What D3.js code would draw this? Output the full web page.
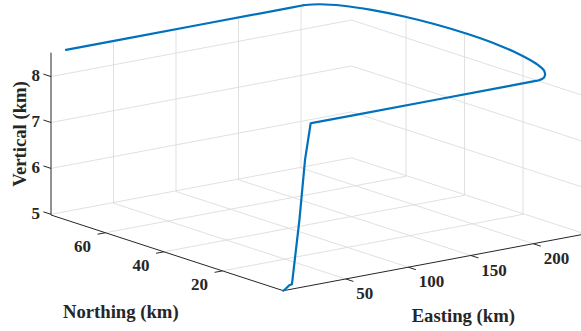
<!DOCTYPE html>
<html>
<head>
<meta charset="utf-8">
<script src="https://cdn.jsdelivr.net/npm/d3@7"></script>
<style>
  html, body { margin: 0; padding: 0; background: #fff; }
  svg { display: block; }
  text { font-family: "Liberation Serif", "Times New Roman", serif; font-weight: bold; fill: #262626; }
</style>
</head>
<body>
<svg id="chart" width="581" height="331"></svg>
<script>
// Axis limits (km)
const eastLim = [0, 240.5];
const northLim = [-0.8, 78.6];
const vertLim = [4.985, 8.52];

// Tick values
const eastTicks = [50, 100, 150, 200];
const northTicks = [20, 40, 60];
const vertTicks = [5, 6, 7, 8];

// Flight track: easting, northing, altitude (km)
const eastKm = [0, 1.5, 4.8, 6.9, 12.9, 17.4, 21.9, 23.5, 60, 120, 180, 202,
  212.0, 221.3, 229.2, 235.3, 239.2, 240.5, 239.2, 235.3, 229.2, 221.3, 212.0,
  202.0, 190, 120, 60, 12];
const northKm = [-0.8, -0.7, -0.8, -0.8, -0.8, -0.8, -0.8, -0.8, -0.8, -0.8, -0.8, -0.8,
  0.6, 4.5, 10.8, 19.1, 28.6, 38.9, 49.2, 58.8, 67.0, 73.3, 77.2,
  78.6, 78.6, 78.6, 78.6, 78.6];
const vertKm = [4.985, 5.0, 5.08, 5.09, 6.46, 7.75, 8.52, 8.52, 8.52, 8.52, 8.52, 8.52,
  8.52, 8.52, 8.52, 8.52, 8.52, 8.52, 8.52, 8.52, 8.52, 8.52, 8.52,
  8.52, 8.52, 8.52, 8.52, 8.52];
// Index range of the turn from the eastbound to the westbound leg
const turnStart = 11, turnEnd = 23;

const svg = d3.select("#chart");

// Orthographic 3-D view: each axis maps to a fraction of its screen edge vector
const fe = d3.scaleLinear().domain(eastLim).range([0, 1]);
const fn = d3.scaleLinear().domain(northLim).range([0, 1]);
const fz = d3.scaleLinear().domain(vertLim).range([0, 1]);
const origin = [283.3, 290.7];
const eVec = [300.6, -56.5];
const nVec = [-232.3, -75.7];
const zVec = [0, -162.3];

function proj(e, n, z) {
  const a = fe(e), b = fn(n), c = fz(z);
  return [origin[0] + a * eVec[0] + b * nVec[0] + c * zVec[0],
          origin[1] + a * eVec[1] + b * nVec[1] + c * zVec[1]];
}
function unit(v, s) { const L = Math.hypot(v[0], v[1]); return [v[0] / L * s, v[1] / L * s]; }

const [e0, e1] = eastLim, [n0, n1] = northLim, [z0, z1] = vertLim;

// Grid lines on floor, back wall and side wall
const grid = [];
eastTicks.forEach(e => {
  grid.push([proj(e, n0, z0), proj(e, n1, z0)]);
  grid.push([proj(e, n1, z0), proj(e, n1, z1)]);
});
northTicks.forEach(n => {
  grid.push([proj(e0, n, z0), proj(e1, n, z0)]);
  grid.push([proj(e1, n, z0), proj(e1, n, z1)]);
});
vertTicks.forEach(z => {
  grid.push([proj(e0, n1, z), proj(e1, n1, z)]);
  grid.push([proj(e1, n1, z), proj(e1, n0, z)]);
});
svg.append("g").selectAll("line").data(grid).join("line")
  .attr("x1", d => d[0][0]).attr("y1", d => d[0][1])
  .attr("x2", d => d[1][0]).attr("y2", d => d[1][1])
  .attr("stroke", "#dcdcdc").attr("stroke-width", 0.9);

// Axis lines
const axes = [
  [proj(e0, n0, z0), proj(e1, n0, z0)],
  [proj(e0, n0, z0), proj(e0, n1, z0)],
  [proj(e0, n1, z0), proj(e0, n1, z1)]
];
const axG = svg.append("g");
axG.selectAll("line.ax").data(axes).join("line").attr("class", "ax")
  .attr("x1", d => d[0][0]).attr("y1", d => d[0][1])
  .attr("x2", d => d[1][0]).attr("y2", d => d[1][1])
  .attr("stroke", "#262626").attr("stroke-width", 1);

const tickLen = 8;
const fs = 17;
const eDir = unit([-nVec[0], -nVec[1]], tickLen);
const nDir = unit([-eVec[0], -eVec[1]], tickLen);
const zDir = unit(nVec, tickLen);

function drawTicks(vals, pt, dir, labelPos, anchor) {
  vals.forEach(v => {
    const p = pt(v);
    axG.append("line")
      .attr("x1", p[0]).attr("y1", p[1])
      .attr("x2", p[0] + dir[0]).attr("y2", p[1] + dir[1])
      .attr("stroke", "#262626").attr("stroke-width", 1);
    const l = labelPos(p);
    axG.append("text").attr("x", l[0]).attr("y", l[1] + fs * 0.34)
      .attr("text-anchor", anchor).attr("font-size", fs).text(v);
  });
}
drawTicks(eastTicks, v => proj(v, n0, z0), eDir, p => [p[0] + 10.5, p[1] + 14.3], "start");
drawTicks(northTicks, v => proj(e0, v, z0), nDir, p => [p[0] - 14.5, p[1] + 13], "end");
drawTicks(vertTicks, v => proj(e0, n1, v), zDir, p => [p[0] - 11, p[1] - 1], "end");

// Axis titles
const ls = 18.7;
svg.append("text").attr("x", 120.8).attr("y", 318).attr("text-anchor", "middle")
  .attr("font-size", ls).text("Northing (km)");
svg.append("text").attr("x", 463.3).attr("y", 322).attr("text-anchor", "middle")
  .attr("font-size", ls).text("Easting (km)");
svg.append("text").attr("transform", "translate(25.5,134) rotate(-90)")
  .attr("text-anchor", "middle").attr("font-size", ls).text("Vertical (km)");

// Flight track: straight climb and legs, smooth turn
const track = eastKm.map((e, i) => proj(e, northKm[i], vertKm[i]));
const pieces = [
  { pts: track.slice(0, turnStart + 1), curve: d3.curveLinear },
  { pts: track.slice(turnStart, turnEnd + 1), curve: d3.curveCatmullRom.alpha(0.5) },
  { pts: track.slice(turnEnd), curve: d3.curveLinear }
];
const trackG = svg.append("g");
pieces.forEach(p => {
  trackG.append("path")
    .attr("d", d3.line().curve(p.curve)(p.pts))
    .attr("fill", "none").attr("stroke", "#0072BD").attr("stroke-width", 2.2)
    .attr("stroke-linejoin", "round").attr("stroke-linecap", "round");
});
</script>
</body>
</html>
